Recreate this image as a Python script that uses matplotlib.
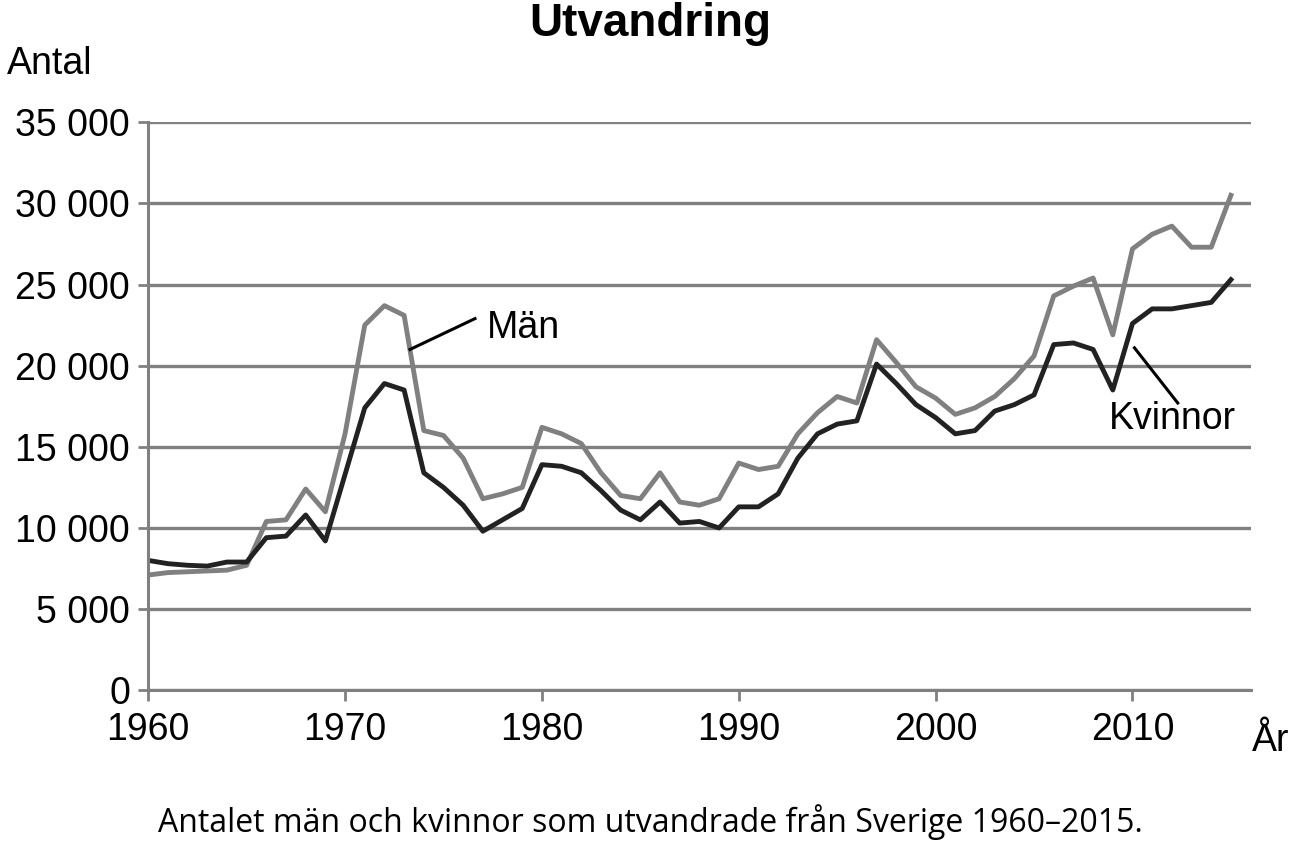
import numpy as np
import matplotlib.pyplot as plt

years = np.arange(1960, 2016)
man = [7100, 7250, 7300, 7350, 7400, 7700, 10400, 10500, 12400, 11000,
       15800, 22500, 23700, 23100, 16000, 15700, 14300, 11800, 12100, 12500,
       16200, 15800, 15200, 13400, 12000, 11800, 13400, 11600, 11400, 11800,
       14000, 13600, 13800, 15800, 17100, 18100, 17700, 21600, 20200, 18700,
       18000, 17000, 17400, 18100, 19200, 20600, 24300, 24900, 25400, 21900,
       27200, 28100, 28600, 27300, 27300, 30500]
kvinnor = [8000, 7800, 7700, 7650, 7900, 7900, 9400, 9500, 10800, 9200,
           13300, 17400, 18900, 18500, 13400, 12500, 11400, 9800, 10500, 11200,
           13900, 13800, 13400, 12300, 11100, 10500, 11600, 10300, 10400, 10000,
           11300, 11300, 12100, 14300, 15800, 16400, 16600, 20100, 18900, 17600,
           16800, 15800, 16000, 17200, 17600, 18200, 21300, 21400, 21000, 18500,
           22600, 23500, 23500, 23700, 23900, 25300]
yticks = [0, 5000, 10000, 15000, 20000, 25000, 30000, 35000]
ytick_labels = ["0", "5 000", "10 000", "15 000", "20 000", "25 000", "30 000", "35 000"]

plt.rcParams["font.family"] = "Liberation Sans"
fig = plt.figure(figsize=(13, 8.49), dpi=100)
ax = fig.add_axes([0.114, 0.187, 0.848, 0.669])

ax.plot(years, man, color="#808080", lw=3.5)
ax.plot(years, kvinnor, color="#222222", lw=3.5)

ax.set_xlim(1960, 2016)
ax.set_ylim(0, 35000)
ax.set_yticks(yticks)
ax.set_yticklabels(ytick_labels, fontsize=27)
ax.set_xticks(range(1960, 2011, 10))
ax.tick_params(axis="x", labelsize=27, length=8, width=2, color="#808080", pad=8)
ax.tick_params(axis="y", length=7, width=2, color="#808080", pad=6)
ax.grid(axis="y", color="#808080", lw=2.4)
ax.set_axisbelow(True)
for s in ["top", "right"]:
    ax.spines[s].set_visible(False)
for s in ["left", "bottom"]:
    ax.spines[s].set_color("#808080")
    ax.spines[s].set_linewidth(2.2)

ax.plot([1973.3, 1976.6], [21000, 22900], color="black", lw=2.2, clip_on=False)
ax.text(1977.2, 22300, "Män", fontsize=27, va="center")
ax.plot([2010.1, 2012.3], [21100, 17700], color="black", lw=2.2)
ax.text(2008.8, 16700, "Kvinnor", fontsize=27, va="center")

fig.text(0.005, 0.913, "Antal", fontsize=27)
fig.text(0.963, 0.115, "År", fontsize=27)
fig.text(0.5, 0.972, "Utvandring", fontsize=33, fontweight="bold", ha="center", va="center")
fig.text(0.5, 0.02, "Antalet män och kvinnor som utvandrade från Sverige 1960–2015.",
         fontsize=23, ha="center", family="Open Sans")

fig.savefig("out.png")
